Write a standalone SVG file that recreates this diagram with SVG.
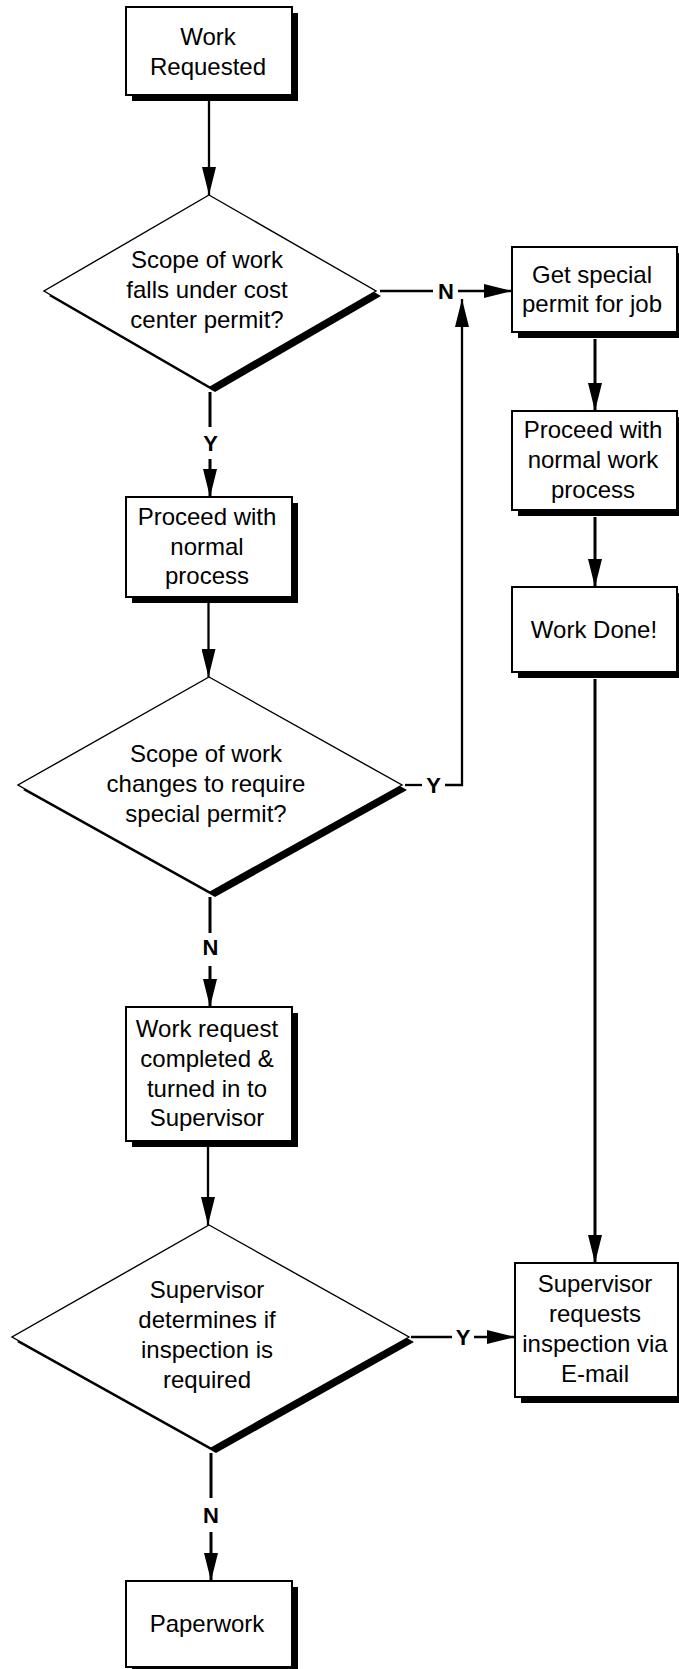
<svg xmlns="http://www.w3.org/2000/svg" width="679" height="1669" viewBox="0 0 679 1669">
  <style>
    .box { fill: #ffffff; stroke: #000000; stroke-width: 2; }
    .dia { fill: #ffffff; stroke: #000000; stroke-width: 1.4; }
    .shadow { fill: #000000; stroke: none; }
    .txt { font-family: "Liberation Sans", Arial, sans-serif; font-size: 24px; fill: #000000; text-anchor: middle; }
    .lbl { font-family: "Liberation Sans", Arial, sans-serif; font-size: 22px; font-weight: bold; fill: #000000; text-anchor: middle; }
    .wire { fill: none; stroke: #000000; stroke-width: 2.3; }
    .wire.heavy { stroke-width: 3; }
  </style>
  <defs>
    <marker id="arrow" markerUnits="userSpaceOnUse" markerWidth="28" markerHeight="14" refX="28" refY="7" orient="auto">
      <path d="M0,0 L28,7 L0,14 z" fill="#000000"/>
    </marker>
  </defs>
  <rect width="679" height="1669" fill="#ffffff"/>

  <!-- connectors -->
  <g id="connectors">
    <path class="wire" d="M209,101 V195" marker-end="url(#arrow)"/>
    <path class="wire heavy" d="M210,392 V427"/>
    <path class="wire heavy" d="M210,459 V497" marker-end="url(#arrow)"/>
    <path class="wire" d="M208.5,603 V677" marker-end="url(#arrow)"/>
    <path class="wire heavy" d="M210,897 V933"/>
    <path class="wire heavy" d="M210,966 V1007" marker-end="url(#arrow)"/>
    <path class="wire" d="M208,1147 V1225" marker-end="url(#arrow)"/>
    <path class="wire heavy" d="M211,1453 V1498"/>
    <path class="wire heavy" d="M211,1532 V1581" marker-end="url(#arrow)"/>
    <path class="wire" d="M380,291 H433"/>
    <path class="wire" d="M458,291 H512" marker-end="url(#arrow)"/>
    <path class="wire" d="M405,785 H422"/>
    <path class="wire" d="M445,785 H462 V299" marker-end="url(#arrow)"/>
    <path class="wire heavy" d="M595,339 V411" marker-end="url(#arrow)"/>
    <path class="wire heavy" d="M595,517 V587" marker-end="url(#arrow)"/>
    <path class="wire heavy" d="M595,679 V1263" marker-end="url(#arrow)"/>
    <path class="wire" d="M411,1337 H452"/>
    <path class="wire" d="M474,1337 H515" marker-end="url(#arrow)"/>
    <text class="lbl" x="210.5" y="451">Y</text>
    <text class="lbl" x="210.5" y="955">N</text>
    <text class="lbl" x="211" y="1523">N</text>
    <text class="lbl" x="446" y="299">N</text>
    <text class="lbl" x="433.5" y="793">Y</text>
    <text class="lbl" x="463" y="1345">Y</text>
  </g>

  <g id="work-requested">
    <rect class="shadow" x="132" y="13" width="166" height="88"/>
    <rect class="box" x="126" y="7" width="166" height="88"/>
    <text class="txt" x="208" y="45">Work</text>
    <text class="txt" x="208" y="75">Requested</text>
  </g>

  <g id="decision-cost-center">
    <polygon class="shadow" points="214,200 381,296 215,392 49,296"/>
    <polygon class="dia" points="209,195 376,291 210,387 44,291"/>
    <text class="txt" x="207" y="268">Scope of work</text>
    <text class="txt" x="207" y="298">falls under cost</text>
    <text class="txt" x="207" y="328">center permit?</text>
  </g>

  <g id="proceed-normal">
    <rect class="shadow" x="132" y="503" width="166" height="100"/>
    <rect class="box" x="126" y="497" width="166" height="100"/>
    <text class="txt" x="207" y="525">Proceed with</text>
    <text class="txt" x="207" y="555">normal</text>
    <text class="txt" x="207" y="584">process</text>
  </g>

  <g id="decision-scope-change">
    <polygon class="shadow" points="214,682 407,790 215,897 23,790"/>
    <polygon class="dia" points="209,677 402,785 210,892 18,785"/>
    <text class="txt" x="206" y="762">Scope of work</text>
    <text class="txt" x="206" y="792">changes to require</text>
    <text class="txt" x="206" y="822">special permit?</text>
  </g>

  <g id="work-request-completed">
    <rect class="shadow" x="132" y="1013" width="166" height="134"/>
    <rect class="box" x="126" y="1007" width="166" height="134"/>
    <text class="txt" x="207" y="1037">Work request</text>
    <text class="txt" x="207" y="1067">completed &amp;</text>
    <text class="txt" x="207" y="1097">turned in to</text>
    <text class="txt" x="207" y="1126">Supervisor</text>
  </g>

  <g id="decision-inspection">
    <polygon class="shadow" points="214,1230 414,1342 216,1453 17,1342"/>
    <polygon class="dia" points="209,1225 409,1337 211,1448 12,1337"/>
    <text class="txt" x="207" y="1298">Supervisor</text>
    <text class="txt" x="207" y="1328">determines if</text>
    <text class="txt" x="207" y="1358">inspection is</text>
    <text class="txt" x="207" y="1388">required</text>
  </g>

  <g id="paperwork">
    <rect class="shadow" x="132" y="1587" width="166" height="86"/>
    <rect class="box" x="126" y="1581" width="166" height="86"/>
    <text class="txt" x="207" y="1632">Paperwork</text>
  </g>

  <g id="special-permit">
    <rect class="shadow" x="518" y="253" width="165" height="85"/>
    <rect class="box" x="512" y="247" width="165" height="85"/>
    <text class="txt" x="592" y="283">Get special</text>
    <text class="txt" x="592" y="312">permit for job</text>
  </g>

  <g id="proceed-normal-work">
    <rect class="shadow" x="518" y="417" width="165" height="99"/>
    <rect class="box" x="512" y="411" width="165" height="99"/>
    <text class="txt" x="593" y="438">Proceed with</text>
    <text class="txt" x="593" y="468">normal work</text>
    <text class="txt" x="593" y="498">process</text>
  </g>

  <g id="work-done">
    <rect class="shadow" x="518" y="593" width="165" height="85"/>
    <rect class="box" x="512" y="587" width="165" height="85"/>
    <text class="txt" x="594" y="638">Work Done!</text>
  </g>

  <g id="request-inspection">
    <rect class="shadow" x="521" y="1269" width="163" height="134"/>
    <rect class="box" x="515" y="1263" width="163" height="134"/>
    <text class="txt" x="595" y="1292">Supervisor</text>
    <text class="txt" x="595" y="1322">requests</text>
    <text class="txt" x="595" y="1352">inspection via</text>
    <text class="txt" x="595" y="1382">E-mail</text>
  </g>
</svg>
